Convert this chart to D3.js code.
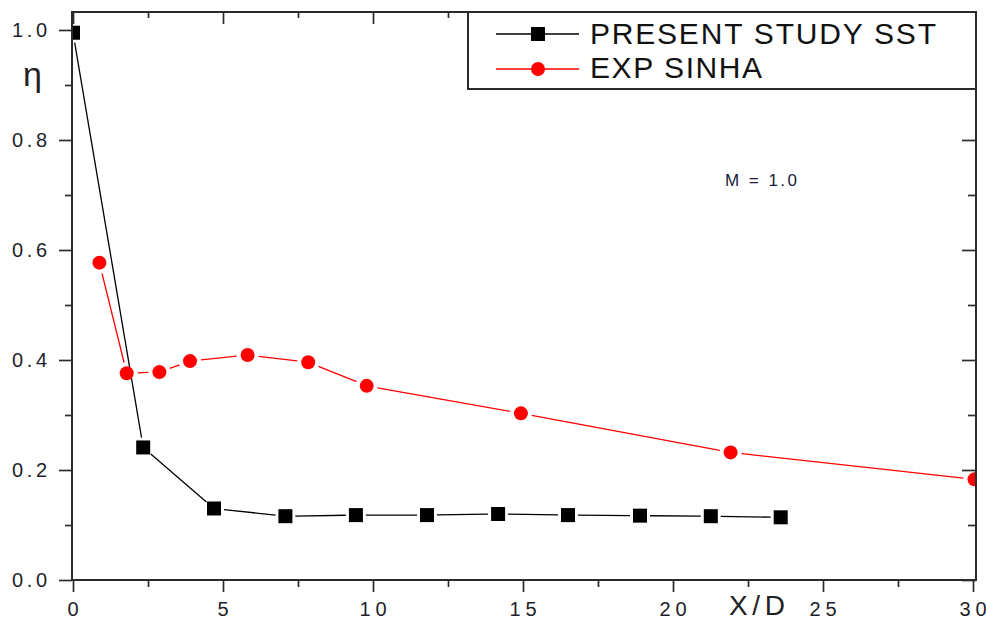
<!DOCTYPE html>
<html>
<head>
<meta charset="utf-8">
<script src="https://cdn.jsdelivr.net/npm/d3@7"></script>
<style>
  html, body { margin: 0; padding: 0; background: #fff; }
  svg { display: block; }
  text { font-family: "Liberation Sans", Arial, sans-serif; }
</style>
</head>
<body>
<svg id="chart" width="986" height="621"></svg>
<script>
// Film cooling effectiveness along the plate, M = 1.0
const sstX = [0, 2.34, 4.7, 7.08, 9.43, 11.8, 14.17, 16.5, 18.9, 21.26, 23.59];
const sstEta = [0.995, 0.241, 0.130, 0.116, 0.118, 0.118, 0.120, 0.118, 0.117, 0.116, 0.114];

const expX = [0.88, 1.79, 2.88, 3.9, 5.82, 7.84, 9.79, 14.93, 21.92, 30.05];
const expEta = [0.577, 0.376, 0.378, 0.398, 0.409, 0.396, 0.353, 0.303, 0.232, 0.183];

const xMajorTicks = [0, 5, 10, 15, 20, 25, 30];
const xMinorTicks = [2.5, 7.5, 12.5, 17.5, 22.5, 27.5];
const yMajorTicks = [0, 0.2, 0.4, 0.6, 0.8, 1.0];
const yMinorTicks = [0.1, 0.3, 0.5, 0.7, 0.9];
const yTickLabels = ["0.0", "0.2", "0.4", "0.6", "0.8", "1.0"];

const seriesNames = ["PRESENT STUDY SST", "EXP SINHA"];

const svg = d3.select("#chart");
const plotL = 72, plotR = 976, plotT = 12, plotB = 580;

const x = d3.scaleLinear().domain([0, 30.1]).range([73, 976]);
const y = d3.scaleLinear().domain([0, 1.0327]).range([plotB, plotT]);

const frameColor = "#2b2b2b";
const labelColor = "#1e1e2a";

svg.append("defs").append("clipPath").attr("id", "plotClip")
  .append("rect").attr("x", plotL).attr("y", plotT)
  .attr("width", plotR - plotL).attr("height", plotB - plotT);

function styleTicks(g) {
  g.select(".domain").remove();
  g.selectAll(".tick line").attr("stroke", frameColor).attr("stroke-width", 1.7);
}

// Bottom axis: outward ticks
svg.append("g").attr("transform", `translate(0,${plotB})`)
  .call(d3.axisBottom(x).tickValues(xMajorTicks).tickSize(12).tickFormat(""))
  .call(styleTicks);
svg.append("g").attr("transform", `translate(0,${plotB})`)
  .call(d3.axisBottom(x).tickValues(xMinorTicks).tickSize(7).tickFormat(""))
  .call(styleTicks);

svg.append("g").selectAll("text").data(xMajorTicks).join("text")
  .attr("x", d => x(d)).attr("y", 616)
  .attr("text-anchor", "middle")
  .attr("font-size", 20).attr("fill", labelColor)
  .attr("textLength", d => String(d).length > 1 ? 27 : 12)
  .attr("lengthAdjust", "spacing")
  .text(d => d);

// Top axis: inward mirror ticks
svg.append("g").attr("transform", `translate(0,${plotT})`)
  .call(d3.axisBottom(x).tickValues(xMajorTicks).tickSize(12).tickFormat(""))
  .call(styleTicks);
svg.append("g").attr("transform", `translate(0,${plotT})`)
  .call(d3.axisBottom(x).tickValues(xMinorTicks).tickSize(6).tickFormat(""))
  .call(styleTicks);

// Left axis: outward ticks
svg.append("g").attr("transform", `translate(${plotL},0)`)
  .call(d3.axisLeft(y).tickValues(yMajorTicks).tickSize(13).tickFormat(""))
  .call(styleTicks);
svg.append("g").attr("transform", `translate(${plotL},0)`)
  .call(d3.axisLeft(y).tickValues(yMinorTicks).tickSize(7).tickFormat(""))
  .call(styleTicks);

svg.append("g").selectAll("text").data(yMajorTicks).join("text")
  .attr("x", 47).attr("y", d => y(d) + 7)
  .attr("text-anchor", "end")
  .attr("font-size", 20).attr("fill", labelColor)
  .attr("textLength", 35).attr("lengthAdjust", "spacing")
  .text((d, i) => yTickLabels[i]);

// Right axis: inward mirror ticks
svg.append("g").attr("transform", `translate(${plotR},0)`)
  .call(d3.axisLeft(y).tickValues(yMajorTicks).tickSize(14).tickFormat(""))
  .call(styleTicks);
svg.append("g").attr("transform", `translate(${plotR},0)`)
  .call(d3.axisLeft(y).tickValues(yMinorTicks).tickSize(8).tickFormat(""))
  .call(styleTicks);

// Data layer
const plot = svg.append("g").attr("clip-path", "url(#plotClip)");

// Origin-style connecting segments that stop short of each marker
function gappedSegments(xs, ys, gap) {
  const segs = [];
  for (let i = 0; i < xs.length - 1; i++) {
    const x1 = x(xs[i]), y1 = y(ys[i]), x2 = x(xs[i + 1]), y2 = y(ys[i + 1]);
    const len = Math.hypot(x2 - x1, y2 - y1);
    if (len <= 2 * gap) continue;
    const ux = (x2 - x1) / len, uy = (y2 - y1) / len;
    segs.push([x1 + ux * gap, y1 + uy * gap, x2 - ux * gap, y2 - uy * gap]);
  }
  return segs;
}

plot.append("g").selectAll("line").data(gappedSegments(expX, expEta, 11)).join("line")
  .attr("x1", d => d[0]).attr("y1", d => d[1]).attr("x2", d => d[2]).attr("y2", d => d[3])
  .attr("stroke", "#ff0000").attr("stroke-width", 1.3);

plot.append("g").selectAll("line").data(gappedSegments(sstX, sstEta, 10)).join("line")
  .attr("x1", d => d[0]).attr("y1", d => d[1]).attr("x2", d => d[2]).attr("y2", d => d[3])
  .attr("stroke", "#000").attr("stroke-width", 1.3);

plot.append("g").selectAll("circle").data(expX).join("circle")
  .attr("cx", d => x(d)).attr("cy", (d, i) => y(expEta[i])).attr("r", 7)
  .attr("fill", "#ff0000");

const sq = 14;
plot.append("g").selectAll("rect").data(sstX).join("rect")
  .attr("x", d => x(d) - sq / 2).attr("y", (d, i) => y(sstEta[i]) - sq / 2)
  .attr("width", sq).attr("height", sq).attr("fill", "#000");

// Frame
svg.append("rect").attr("x", plotL).attr("y", plotT)
  .attr("width", plotR - plotL).attr("height", plotB - plotT)
  .attr("fill", "none").attr("stroke", frameColor).attr("stroke-width", 2);

// Legend
const lg = svg.append("g");
lg.append("rect").attr("x", 468).attr("y", plotT).attr("width", plotR - 468).attr("height", 89 - plotT)
  .attr("fill", "#fff").attr("stroke", frameColor).attr("stroke-width", 2);
lg.append("line").attr("x1", 496).attr("x2", 579).attr("y1", 34).attr("y2", 34)
  .attr("stroke", "#000").attr("stroke-width", 1.3);
lg.append("rect").attr("x", 538 - 7).attr("y", 34 - 7).attr("width", 14).attr("height", 14).attr("fill", "#000");
lg.append("line").attr("x1", 496).attr("x2", 579).attr("y1", 69).attr("y2", 69)
  .attr("stroke", "#ff0000").attr("stroke-width", 1.3);
lg.append("circle").attr("cx", 538).attr("cy", 69).attr("r", 7).attr("fill", "#ff0000");
lg.append("text").attr("x", 590).attr("y", 44).attr("font-size", 30).attr("fill", "#111")
  .attr("textLength", 346).attr("lengthAdjust", "spacing").text(seriesNames[0]);
lg.append("text").attr("x", 590).attr("y", 78).attr("font-size", 30).attr("fill", "#111")
  .attr("textLength", 172).attr("lengthAdjust", "spacing").text(seriesNames[1]);

// Annotation and axis titles
svg.append("text").attr("x", 725).attr("y", 186).attr("font-size", 17).attr("fill", "#1a1a3a")
  .attr("textLength", 72).attr("lengthAdjust", "spacing").text("M = 1.0");
svg.append("text").attr("x", 23).attr("y", 86).attr("font-size", 34).attr("fill", "#222")
  .attr("font-family", "DejaVu Sans, sans-serif").text("η");
svg.append("text").attr("x", 729).attr("y", 615).attr("font-size", 28).attr("fill", "#222")
  .attr("textLength", 56).attr("lengthAdjust", "spacing").text("X/D");
</script>
</body>
</html>
